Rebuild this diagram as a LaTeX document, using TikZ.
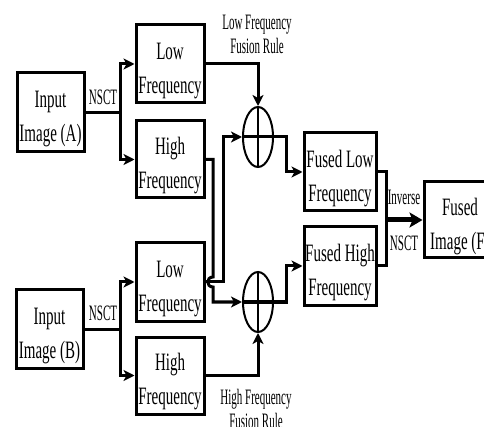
\documentclass[tikz,border=0pt]{standalone}
\usepackage{fontspec}
\usetikzlibrary{arrows.meta,shapes.geometric}
\newfontfamily\boxfont{Liberation Serif}[FakeStretch=0.6]
\newfontfamily\lblfont{Liberation Serif}[FakeStretch=0.5]
\newcommand\tl{\rule{0pt}{30pt}}
\tikzset{
  blk/.style={draw, line width=3pt, minimum width=68pt, minimum height=78pt,
    inner sep=0pt, align=center, font=\boxfont\fontsize{25}{34}\selectfont},
  wblk/.style={blk, minimum width=72pt},
  lbl/.style={inner sep=0pt, align=center, font=\lblfont\fontsize{22}{24}\selectfont},
  sum/.style={draw, ellipse, line width=2pt, minimum width=30pt, minimum height=60pt, inner sep=0pt},
  conn/.style={line width=3pt},
  arr/.style={conn, -{Stealth[length=11pt,width=11pt,inset=3pt]}},
  bigarr/.style={line width=5pt, -{Stealth[length=13pt,width=15pt,inset=3pt]}}
}
\begin{document}
\begin{tikzpicture}[x=1pt,y=-1pt]
\useasboundingbox (0,0) rectangle (484,427);
\clip (0,0) rectangle (484,427);
% blocks
\node[blk, minimum width=67pt, minimum height=79pt] (inA) at (50.5,112.5) {\tl Input\\Image (A)};
\node[blk] (lowA) at (170,64) {\tl Low\\Frequency};
\node[blk, minimum height=77pt] (highA) at (170,159.5) {\tl High\\Frequency};
\node[blk, minimum width=67pt] (inB) at (49.5,329) {\tl Input\\Image (B)};
\node[blk] (lowB) at (170,282) {\tl Low\\Frequency};
\node[blk, minimum height=77pt] (highB) at (170,375.5) {\tl High\\Frequency};
\node[wblk] (fusedLow) at (340,172) {\tl Fused Low\\Frequency};
\node[wblk] (fusedHigh) at (340,266) {\tl Fused High\\Frequency};
\node[wblk, minimum height=76pt] (fusedImg) at (460,220) {\tl Fused\\Image (F)};
\node[sum] (sumTop) at (258,137) {};
\node[sum] (sumBot) at (258,302) {};
% plus signs
\draw[conn] (sumTop.west) -- (sumTop.east);
\draw[line width=2pt] (sumTop.north) -- (sumTop.south);
\draw[conn] (sumBot.west) -- (sumBot.east);
\draw[line width=2pt] (sumBot.north) -- (sumBot.south);
% labels
\node[lbl] (nsctA) at (103,97) {NSCT};
\node[lbl] (nsctB) at (103,313) {NSCT};
\node[lbl] (lfr) at (257,34) {Low Frequency\\Fusion Rule};
\node[lbl] (hfr) at (256,409) {High Frequency\\Fusion Rule};
\node[lbl] (inv) at (404,197) {Inverse};
\node[lbl] (nsctF) at (404,243) {NSCT};
% decomposition A
\draw[conn] (inA.east) -- ++(35,0) coordinate (sA);
\draw[arr] (sA) |- (lowA.west);
\draw[arr] (sA) |- (highA.west);
% decomposition B
\draw[conn] (inB.east) -- ++(36,0) coordinate (sB);
\draw[arr] (sB) |- (lowB.west);
\draw[arr] (sB) |- (highB.west);
% to fusion
\draw[arr] (lowA.east) -| (sumTop.north);
\draw[arr] (lowB.east) -- ++(18,0) |- (sumTop.west);
\coordinate (hop1) at (213,277);
\coordinate (hop2) at (213,287);
\draw[arr] (highA.east) -| (hop1) .. controls +(-7,0) and +(-7,0) .. (hop2) |- (sumBot.west);
\draw[arr] (highB.east) -| (sumBot.south);
% fused
\draw[arr] (sumTop.east) -- ++(12,0) |- (fusedLow.west);
\draw[arr] (sumBot.east) -- ++(12,0) |- (fusedHigh.west);
\coordinate (j) at (386,220);
\draw[conn] (fusedLow.east) -| (j);
\draw[conn] (fusedHigh.east) -| (j);
\draw[bigarr] (j) -- (fusedImg.west);
\end{tikzpicture}
\end{document}
